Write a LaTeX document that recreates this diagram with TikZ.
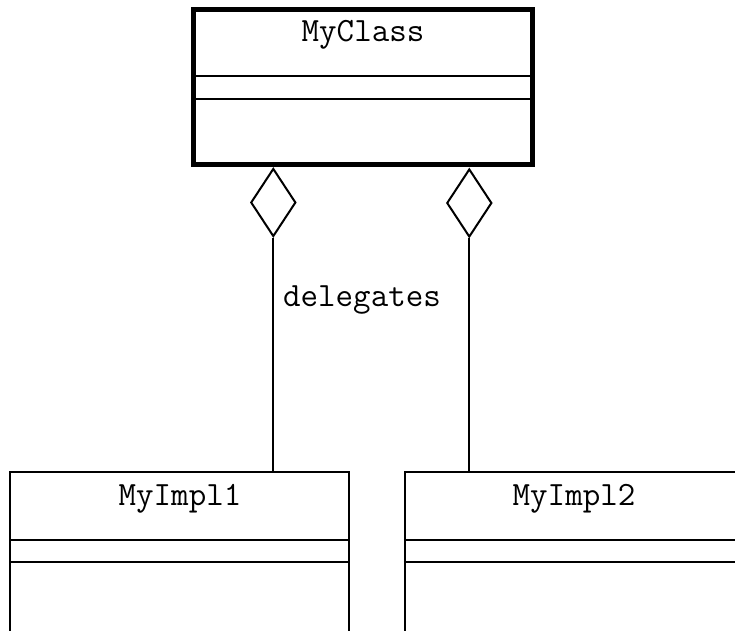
\documentclass[tikz,border=0pt]{standalone}
\usepackage{fontspec}
\usetikzlibrary{shapes.geometric}

\tikzset{
  umltext/.style={font=\ttfamily\fontsize{34}{39}\selectfont, inner sep=0pt, anchor=base},
  classbox/.style={draw, line width=2pt, inner sep=0pt, minimum width=339.3pt},
  activebox/.style={classbox, line width=5pt, minimum width=339pt, minimum height=155.5pt},
  implbox/.style={classbox, minimum height=250pt},
  compartment/.style={line width=2pt},
  aggdiamond/.style={diamond, draw, line width=2pt, inner sep=0pt, minimum width=45pt, minimum height=68pt},
  link/.style={line width=2pt}
}

\begin{document}
\begin{tikzpicture}[x=1pt, y=-1pt]
  \useasboundingbox (0,0) rectangle (735,630);
  \clip (0,0) rectangle (735,630);
  \fill[white] (0,0) rectangle (735,630);

  % active class with its two compartment separators
  \node[activebox] (cls) at (363,87) {};
  \draw[compartment] (cls.west |- 0,75.7) -- (cls.east |- 0,75.7);
  \draw[compartment] (cls.west |- 0,98.7) -- (cls.east |- 0,98.7);
  \node[umltext] (clsname) at (363,41.3) {MyClass};

  % implementation classes (running off the lower edge)
  \node[implbox] (implA) at (179.7,597.3) {};
  \draw[compartment] (implA.west |- 0,540) -- (implA.east |- 0,540);
  \draw[compartment] (implA.west |- 0,562.3) -- (implA.east |- 0,562.3);
  \node[umltext] (implAname) at (180,505) {MyImpl1};

  \node[implbox] (implB) at (574.5,597.3) {};
  \draw[compartment] (implB.west |- 0,540) -- (implB.east |- 0,540);
  \draw[compartment] (implB.west |- 0,562.3) -- (implB.east |- 0,562.3);
  \node[umltext] (implBname) at (574,505) {MyImpl2};

  % aggregation diamonds hanging under MyClass
  \node[aggdiamond] (aggA) at (273.3,202.5) {};
  \node[aggdiamond] (aggB) at (469.3,203) {};

  % connectors
  \draw[link] (aggA.south) -- (aggA.south |- implA.north);
  \draw[link] (aggB.south) -- (aggB.south |- implB.north);

  \node[umltext, anchor=base west] (lbl) at (283,306) {delegates};
\end{tikzpicture}
\end{document}
